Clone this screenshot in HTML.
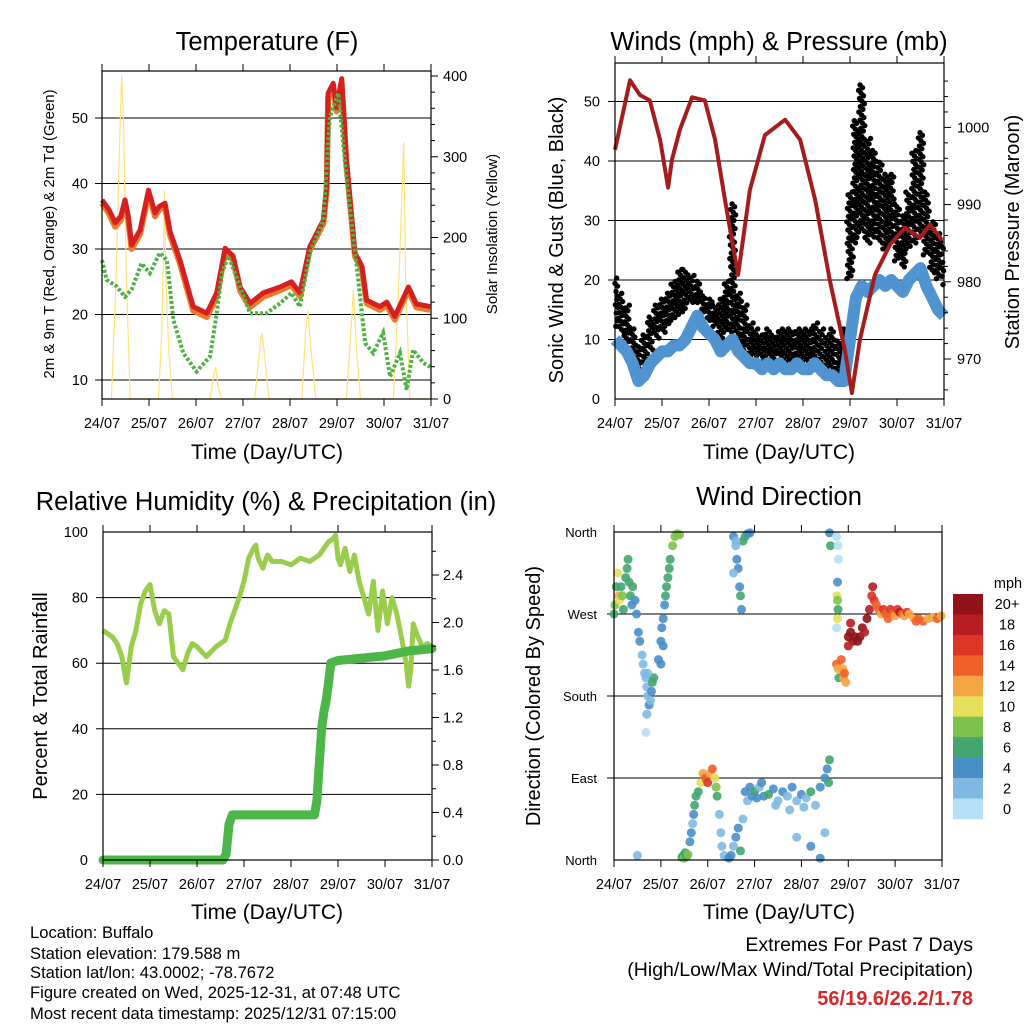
<!DOCTYPE html>
<html><head><meta charset="utf-8"><title>Weather station</title>
<style>
html,body{margin:0;padding:0;background:#fff;}
svg{display:block;font-family:"Liberation Sans",Arial,sans-serif;}
</style></head>
<body>
<svg id="root" xmlns="http://www.w3.org/2000/svg" width="1024" height="1024" viewBox="0 0 1024 1024">
<rect x="0" y="0" width="1024" height="1024" fill="#fff"/>
<text x="267" y="50" font-size="25.5" text-anchor="middle">Temperature (F)</text>
<text x="779" y="50" font-size="25.5" text-anchor="middle">Winds (mph) &amp; Pressure (mb)</text>
<text x="266" y="510" font-size="25.5" text-anchor="middle">Relative Humidity (%) &amp; Precipitation (in)</text>
<text x="779" y="505" font-size="25.5" text-anchor="middle">Wind Direction</text>
<text x="267" y="459" font-size="21" text-anchor="middle">Time (Day/UTC)</text>
<text x="779" y="459" font-size="21" text-anchor="middle">Time (Day/UTC)</text>
<text x="267" y="919" font-size="21" text-anchor="middle">Time (Day/UTC)</text>
<text x="779" y="919" font-size="21" text-anchor="middle">Time (Day/UTC)</text>
<text transform="translate(54,234) rotate(-90)" font-size="15" text-anchor="middle">2m &amp; 9m T (Red, Orange) &amp; 2m Td (Green)</text>
<text transform="translate(497,234) rotate(-90)" font-size="15" text-anchor="middle">Solar Insolation (Yellow)</text>
<text transform="translate(563,240) rotate(-90)" font-size="20" text-anchor="middle">Sonic Wind &amp; Gust (Blue, Black)</text>
<text transform="translate(1019,232) rotate(-90)" font-size="20" text-anchor="middle">Station Pressure (Maroon)</text>
<text transform="translate(47,696) rotate(-90)" font-size="20" text-anchor="middle">Percent &amp; Total Rainfall</text>
<text transform="translate(540,696) rotate(-90)" font-size="20" text-anchor="middle">Direction (Colored By Speed)</text>
<g font-size="16.6">
<text x="30" y="938">Location: Buffalo</text>
<text x="30" y="959">Station elevation: 179.588 m</text>
<text x="30" y="978">Station lat/lon: 43.0002; -78.7672</text>
<text x="30" y="998">Figure created on Wed, 2025-12-31, at 07:48 UTC</text>
<text x="30" y="1019">Most recent data timestamp: 2025/12/31 07:15:00</text>
</g>
<text x="973" y="951" font-size="19.5" text-anchor="end">Extremes For Past 7 Days</text>
<text x="973" y="976" font-size="19.5" text-anchor="end">(High/Low/Max Wind/Total Precipitation)</text>
<text x="973" y="1005" font-size="20" font-weight="bold" fill="#d42a2a" text-anchor="end">56/19.6/26.2/1.78</text>
</svg>
<script>
// ---------- data ----------
const dayLabels = ['24/07','25/07','26/07','27/07','28/07','29/07','30/07','31/07'];
const tempTicks = [10,20,30,40,50];
const solarTicks = [0,100,200,300,400];
const windTicks = [0,10,20,30,40,50];
const presTicks = [970,980,990,1000];
const rhTicks = [0,20,40,60,80,100];
const rainTicks = ['0.0','0.4','0.8','1.2','1.6','2.0','2.4'];
const dirLabels = ['North','East','South','West','North'];
const dirTicks = [0,90,180,270,360];
const speedLabels = ['20+','18','16','14','12','10','8','6','4','2','0'];

const tempT = [0,0.15,0.28,0.4,0.49,0.56,0.63,0.81,0.99,1.13,1.22,1.34,1.45,1.66,1.94,2.23,2.44,2.62,2.79,2.94,3.15,3.43,3.79,4.03,4.21,4.42,4.71,4.78,4.81,4.92,4.99,5.1,5.2,5.38,5.53,5.63,5.91,6.06,6.23,6.52,6.69,6.98];
const temp2m = [37.5,36,34,35,37.5,35,30.6,32.9,39,35.5,36.5,37,32.6,28.3,21.2,20.2,23.3,30.1,28.9,24.2,21.7,23.3,24.2,25,23.3,30.3,34.4,39.5,53.8,55.3,51.6,56,43.6,29.4,27.4,22.2,21.2,21.9,19.7,24.2,21.6,21.2];
const temp9m = [37,35.4,33.4,34.4,37,34.5,30,32.3,38.4,35,36,36.5,32,27.8,20.6,19.6,22.7,29.5,28.4,23.6,21.1,22.7,23.7,24.5,22.8,29.8,33.9,39,53.2,54.7,51,55.4,43,28.9,26.9,21.7,20.7,21.4,19.2,23.7,21.1,20.7];
const dewT = [0,0.1,0.31,0.49,0.63,0.84,1.02,1.23,1.38,1.52,1.73,2.01,2.3,2.44,2.55,2.69,2.83,3.15,3.5,3.79,4.03,4.21,4.42,4.71,4.85,5.03,5.2,5.42,5.6,5.77,5.98,6.13,6.34,6.48,6.62,6.84,6.98];
const dewV = [28.3,25.3,24.3,22.7,23.8,27.8,26.3,29.4,28.3,19.2,14.1,11.3,13.6,20.2,26.3,28.9,26.3,20.2,20.2,21.7,23.3,21.2,29.4,34.4,50.2,53.8,41,27.4,15.6,14.1,17.2,10.5,14.1,8.5,14.6,12.6,12];
const solarT = [0,0.2,0.3,0.38,0.42,0.46,0.52,0.6,1.2,1.27,1.3,1.33,1.36,1.42,1.5,2.3,2.38,2.42,2.47,2.55,3.25,3.35,3.4,3.45,3.55,4.25,4.33,4.38,4.43,4.55,5.2,5.28,5.35,5.42,5.5,6.2,6.3,6.38,6.42,6.46,6.55,7];
const solarV = [0,0,150,330,400,340,150,0,0,80,160,258,150,60,0,0,30,40,15,0,0,60,82,60,0,0,80,110,70,0,0,70,135,60,0,0,120,250,318,150,0,0];

const windSust = [10,9,8,6,3,4,6,7, 8,8,9,9,10,12,14,12, 11,10,8,9,10,8,7,6, 6,5,6,5,6,5,5,6, 5,5,6,5,4,4,3,3, 10,17,19,18,19,20,19,20, 19,18,20,21,22,19,17,15, 14];
const gustLo = [12,11,9,7,4,6,8,10, 11,12,13,14,15,16,16,14, 13,12,10,11,11,9,8,7, 7,6,7,6,7,6,6,7, 6,6,7,6,5,5,4,4, 20,26,28,26,27,26,25,26, 23,22,25,26,27,24,21,20, 19];
const gustHi = [21,18,16,12,9,11,14,16, 17,18,20,22,22,21,20,18, 17,16,17,20,33,18,16,13, 12,11,12,11,12,12,12,12, 12,12,13,12,11,12,10,12, 35,47,53,44,42,40,38,38, 33,31,35,42,45,35,30,28, 26];
const presT = [0,0.32,0.53,0.74,0.96,1.13,1.21,1.38,1.64,1.91,2.13,2.34,2.62,2.87,3.19,3.62,3.94,4.26,4.57,4.89,5.04,5.21,5.53,5.85,6.17,6.49,6.7,6.96];
const presV = [997.1,1006.1,1004.2,1003.5,998.4,992.2,995.8,999.7,1003.9,1003.5,998.4,990.6,980.9,991.9,999,1001,998.4,990.6,980.2,971.2,965.6,972.5,980.9,984.8,987,985.7,987.4,985.4];

const rhT = [0,0.1,0.2,0.3,0.4,0.5,0.6,0.7,0.8,0.9,1.0,1.1,1.2,1.3,1.4,1.5,1.6,1.7,1.8,1.9,2.0,2.2,2.4,2.6,2.7,2.8,2.9,3.0,3.1,3.2,3.25,3.3,3.4,3.5,3.6,3.8,4.0,4.2,4.4,4.6,4.8,4.9,4.95,5.0,5.05,5.15,5.25,5.35,5.45,5.55,5.65,5.75,5.85,5.95,6.05,6.15,6.25,6.35,6.45,6.5,6.55,6.6,6.7,6.8,6.9,7.0];
const rhV = [70,69,68,66,62,54,65,70,78,82,84,76,72,76,75,62,60,58,63,66,65,62,65,67,72,76,80,85,92,95,96,92,89,93,91,91,90,92,91,93,97,98,99,92,90,95,88,93,85,80,75,85,70,82,72,80,75,68,60,53,58,72,68,65,66,65];
const rainT = [0,2.55,2.62,2.68,2.75,3.0,4.5,4.55,4.6,4.65,4.7,4.75,4.8,4.85,5.0,5.5,6.0,6.5,7.0];
const rainV = [0,0,0.05,0.3,0.38,0.38,0.38,0.5,0.8,1.1,1.25,1.35,1.5,1.66,1.68,1.7,1.72,1.76,1.78];

const wdT = [0,0.02,0.05,0.08,0.1,0.12,0.15,0.18,0.2,0.25,0.28,0.3,0.32,0.35,0.38,0.4,0.45,0.48,
 0.52,0.55,0.6,0.62,0.65,0.68,0.7,0.72,0.75,0.78,0.8,0.82,0.85,0.7,0.68,0.72,
 0.95,1.0,1.02,1.05,1.08,1.1,1.12,1.15,1.18,1.2,1.25,1.3,1.35,1.4,1.0,1.05,
 2.55,2.6,2.62,2.65,2.68,2.7,2.72,2.75,2.8,2.85,2.9,2.6,2.55,
 4.6,4.62,4.75,4.78,4.79,4.77,4.76,4.77,4.78,4.77,4.75,
 4.75,4.78,4.8,4.85,4.88,4.9,4.92,4.95,
 5.0,5.05,5.1,5.15,5.2,5.25,5.3,5.35,5.0,5.05,
 5.4,5.45,5.5,5.52,5.55,5.6,
 5.65,5.7,5.75,5.8,5.85,5.9,5.95,6.0,6.05,6.1,6.15,6.2,6.25,6.3,6.4,6.45,6.5,6.6,6.7,6.8,6.9,6.98,
 1.45,1.48,1.5,1.52,1.55,1.58,1.62,1.65,1.68,1.7,1.72,1.75,1.8,1.85,1.9,1.95,2.0,2.05,2.1,2.15,2.18,2.2,2.25,2.28,2.3,2.35,
 2.45,2.5,2.55,2.6,2.65,2.7,2.75,
 2.8,2.85,2.9,2.95,3.0,3.05,3.1,3.2,3.3,3.4,3.5,3.6,3.7,3.8,3.9,4.0,4.1,4.2,4.3,4.4,4.5,4.55,4.6,4.58,3.15,3.45,3.75,4.05,
 3.9,4.2,4.4,4.5,0.5];
const wdDir = [270,280,300,315,290,285,300,290,275,310,320,330,305,290,280,300,285,270,
 250,240,225,215,205,200,190,180,170,175,185,195,200,160,140,205,
 220,240,255,265,280,290,300,310,320,330,345,355,358,357,215,235,
 355,345,330,320,300,290,275,350,355,358,359,350,315,
 359,345,355,345,330,305,290,285,275,265,255,
 215,210,200,220,210,200,205,195,
 245,250,240,245,240,245,255,250,235,260,
 265,275,290,300,285,280,
 275,270,275,270,265,275,270,268,275,272,270,268,272,270,265,262,265,262,265,266,265,268,
 3,5,2,8,4,6,20,30,40,50,60,70,75,85,95,90,85,95,100,90,80,70,50,30,15,5,
 2,5,15,25,35,10,45,
 75,65,80,70,75,68,80,70,72,78,65,75,70,80,65,72,68,75,60,80,90,100,110,85,85,60,55,58,
 25,15,2,30,5];
const wdSpd = [7,8,6,11,12,10,6,8,6,7,6,6,7,6,5,7,5,5,
 5,4,3,2,2,3,2,3,4,3,4,7,7,2,1,3,
 4,4,4,4,5,6,6,7,6,7,8,9,9,8,4,4,
 4,3,4,4,5,6,5,6,6,4,4,3,3,
 4,6,1,1,1,4,10,8,6,10,1,
 14,13,7,14,12,13,14,12,
 20,20,20,20,20,20,20,18,18,18,
 20,18,17,18,16,14,
 14,12,16,14,15,16,14,13,16,18,14,13,16,12,13,14,15,14,13,12,14,13,
 6,7,9,7,6,8,4,4,3,4,6,7,6,10,12,14,16,12,14,11,8,7,3,2,2,2,
 4,4,3,4,4,6,3,
 4,3,5,4,6,4,3,4,6,4,3,4,3,4,3,4,3,6,3,4,4,5,6,7,4,3,3,2,
 2,4,4,3,2];

// ---------- drawing ----------
const NS = 'http://www.w3.org/2000/svg';
const svg = document.getElementById('root');
function mk(tag, attrs, parent){
  const e = document.createElementNS(NS, tag);
  for (const k in attrs) e.setAttribute(k, attrs[k]);
  (parent || svg).appendChild(e);
  return e;
}
function pathD(ts, vs, xf, yf){
  return ts.map((t,i)=>(i?'L':'M')+xf(t).toFixed(1)+' '+yf(vs[i]).toFixed(1)).join('');
}
const P1 = {x0:102,x1:431,y0:71,y1:399};
const P2 = {x0:615,x1:944,y0:63,y1:399};
const P3 = {x0:103,x1:432,y0:532,y1:860};
const P4 = {x0:614,x1:942,y0:532,y1:860};
function xs(P){ return d => P.x0 + d*(P.x1-P.x0)/7; }
const x1s = xs(P1), x2s = xs(P2), x3s = xs(P3), x4s = xs(P4);
const tempY = v => 380 - (v-10)*6.55;
const solarY = v => 399 - v*0.8075;
const windY = v => 399 - v*5.95;
const presY = p => 359 - (p-970)*7.72;
const rhY = v => 860 - v*3.28;
const rainY = r => 860 - r*118.75;
const dirY = d => 860 - d/360*328;
const speedColors = ['#8f1318','#b71c22','#dc3526','#f0612a','#f5a544','#e4e05a','#7dc24c','#44a56e','#4a8ec6','#7fb9e2','#b6e0f5'];
function speedColor(s){ const k = Math.min(10, Math.floor(s/2)); return speedColors[10-k]; }

function baseAxes(P, key, labelY){
  const g = mk('g', {});
  
  
  for (let i=0;i<dayLabels.length;i++){
    const x = P.x0 + i*(P.x1-P.x0)/7;
    const t1 = mk('line', {x1:x,x2:x,y1:P.y1,y2:P.y1+7,stroke:'#000','stroke-width':1}, g);
    
    
    const t2 = mk('line', {x1:x,x2:x,y1:P.y0,y2:P.y0-7,stroke:'#000','stroke-width':1}, g);
    
    
    const tx = mk('text', {x:x,y:labelY,'font-size':14.5,'text-anchor':'middle'}, g);
    
    
    tx.textContent = dayLabels[i];
  }
}
function frame(P, key){
  const r = mk('rect', {x:P.x0,y:P.y0,width:P.x1-P.x0,height:P.y1-P.y0,fill:'none',stroke:'#000','stroke-width':1.2});
  
  
}
function grid(P, key, vals, yf){
  for (const v of vals){
    const y = yf(v);
    const l = mk('line', {x1:P.x0-7,x2:P.x1,y1:y,y2:y,stroke:'#000','stroke-width':1});
    
    
  }
}
function yLabels(vals, texts, yf, x, anchor, key, fs){
  vals.forEach((v,i)=>{
    const t = mk('text', {x:x,y:yf(v)+5,'font-size':fs||14.5,'text-anchor':anchor});
    
    
    t.textContent = texts[i];
  });
}
function rightTicks(P, vals, yf, len, key){
  for (const v of vals){
    const y = yf(v);
    const l = mk('line', {x1:P.x1,x2:P.x1+len,y1:y,y2:y,stroke:'#000','stroke-width':1});
    
    
  }
}

// ===== Panel 1: temperature =====
grid(P1, 'temperature', tempTicks, tempY);
{
  const s = mk('path', {d:pathD(solarT, solarV, x1s, solarY), fill:'none', stroke:'#ffe37a','stroke-width':1.2});
  
  
  const o = mk('path', {d:pathD(tempT, temp9m, x1s, tempY), fill:'none', stroke:'#f07a2a','stroke-width':6,'stroke-linejoin':'round'});
  
  
  const r = mk('path', {d:pathD(tempT, temp2m, x1s, tempY), fill:'none', stroke:'#d42020','stroke-width':5,'stroke-linejoin':'round'});
  
  
  const g = mk('path', {d:pathD(dewT, dewV, x1s, tempY), fill:'none', stroke:'#4cb343','stroke-width':4,'stroke-dasharray':'3 2'});
  
  
}
frame(P1, 'temperature');
baseAxes(P1, 'temperature', 428);
yLabels(tempTicks, tempTicks.map(String), tempY, 88, 'end', 'temperature-y');
yLabels(solarTicks, solarTicks.map(String), solarY, 443, 'start', 'solar-y');
rightTicks(P1, solarTicks, solarY, 7, 'solar-y');
rightTicks(P1, [20,40,60,80,120,140,160,180,220,240,260,280,320,340,360,380], solarY, 4, 'solar-y-minor');

// ===== Panel 2: winds =====
grid(P2, 'winds', windTicks.slice(1), windY);
{
  const n = windSust.length;
  const step = 7/(n-1);
  const tw = i => i*step;
  const gg = mk('g', {});
  
  
  let k = 0;
  for (let i=0;i<n;i++){
    const span = gustHi[i]-gustLo[i];
    const count = Math.max(4, Math.round(span*2.2));
    for (let j=0;j<count;j++){
      k++;
      const fx = ((k*0.6180339) % 1) - 0.5;
      const fy = (j+0.5)/count;
      const d = tw(i) + fx*step*1.1;
      if (d<0 || d>7) continue;
      const vv = gustLo[i] + fy*span;
      const c = mk('circle', {cx:x2s(d).toFixed(1), cy:windY(vv).toFixed(1), r:2.7, fill:'#000'}, gg);
      
      
    }
  }
  const ts = windSust.map((v,i)=>tw(i));
  const b = mk('path', {d:pathD(ts, windSust, x2s, windY), fill:'none', stroke:'#4f93d0','stroke-width':12,'stroke-linejoin':'round'});
  
  
  const p = mk('path', {d:pathD(presT, presV, x2s, presY), fill:'none', stroke:'#a51c1c','stroke-width':4,'stroke-linejoin':'round'});
  
  
}
frame(P2, 'winds');
baseAxes(P2, 'winds', 428);
yLabels(windTicks, windTicks.map(String), windY, 600, 'end', 'wind-y');
yLabels(presTicks, presTicks.map(String), presY, 957, 'start', 'pressure-y');
rightTicks(P2, presTicks, presY, 7, 'pressure-y');
rightTicks(P2, [966,968,972,974,976,978,982,984,986,988,992,994,996,998,1002,1004,1006], presY, 4, 'pressure-y-minor');

// ===== Panel 3: humidity & rain =====
grid(P3, 'humidity', [20,40,60,80], rhY);
{
  const h = mk('path', {d:pathD(rhT, rhV, x3s, rhY), fill:'none', stroke:'#9acd4c','stroke-width':5,'stroke-linejoin':'round'});
  
  
  const r = mk('path', {d:pathD(rainT, rainV, x3s, rainY), fill:'none', stroke:'#4cb748','stroke-width':9,'stroke-linejoin':'round','stroke-linecap':'round'});
  
  
}
frame(P3, 'humidity');
baseAxes(P3, 'humidity', 889);
yLabels(rhTicks, rhTicks.map(String), rhY, 88, 'end', 'humidity-y');
yLabels(rainTicks.map(Number), rainTicks, rainY, 443, 'start', 'rain-y');
rightTicks(P3, rainTicks.map(Number), rainY, 7, 'rain-y');
rightTicks(P3, [0.2,0.6,1.0,1.4,1.8,2.2,2.6], rainY, 4, 'rain-y-minor');

// ===== Panel 4: wind direction =====
grid(P4, 'direction', [90,180,270], dirY);
{
  const g = mk('g', {});
  
  
  for (let i=0;i<wdT.length;i++){
    const c = mk('circle', {cx:x4s(wdT[i]).toFixed(1), cy:dirY(wdDir[i]).toFixed(1), r:4.5, fill:speedColor(wdSpd[i]), 'fill-opacity':0.9}, g);
    
    
  }
}
frame(P4, 'direction');
baseAxes(P4, 'direction', 889);
yLabels(dirTicks, dirLabels, dirY, 597, 'end', 'direction-y', 13);
{
  const g = mk('g', {});
  
  
  const bh = 225/11;
  for (let i=0;i<11;i++){
    const r = mk('rect', {x:953,y:(594+i*bh).toFixed(2),width:30,height:(bh+0.3).toFixed(2),fill:speedColors[i]}, g);
    
    
    const t = mk('text', {x:1007,y:(594+i*bh+bh/2+5).toFixed(1),'font-size':14.5,'text-anchor':'middle'}, g);
    
    
    t.textContent = speedLabels[i];
  }
  const m = mk('text', {x:1008,y:588,'font-size':14.5,'text-anchor':'middle'}, g);
  
  
  m.textContent = 'mph';
}
</script>
</body></html>
